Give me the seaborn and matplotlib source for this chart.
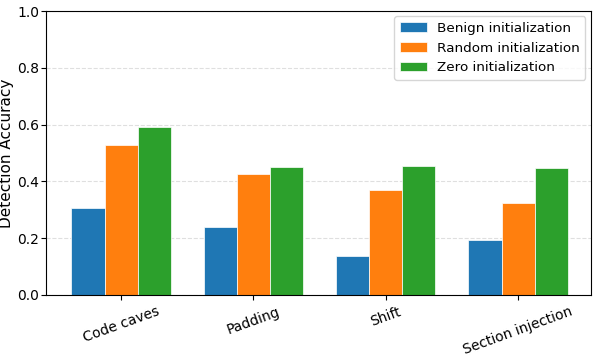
import pandas as pd
import matplotlib
matplotlib.use("Agg")
import matplotlib.pyplot as plt
import seaborn as sns

# Datos
tecnicas = ["Code caves", "Padding", "Shift", "Section injection"]
benign = [0.307, 0.239, 0.136, 0.193]
random_init = [0.529, 0.426, 0.370, 0.323]
zero_init = [0.592, 0.452, 0.455, 0.448]
series = ["Benign initialization", "Random initialization", "Zero initialization"]

data = pd.DataFrame({
    "tecnica": tecnicas * 3,
    "serie": [s for s in series for _ in tecnicas],
    "valor": benign + random_init + zero_init,
})

fig, ax = plt.subplots(figsize=(5.98, 3.57), dpi=100)
sns.barplot(data=data, x="tecnica", y="valor", hue="serie", hue_order=series,
            order=tecnicas, palette=["#1f77b4", "#ff7f0e", "#2ca02c"],
            width=0.75, edgecolor="white", linewidth=0.5, saturation=1, ax=ax)

ax.set_ylim(0, 1.0)
ax.set_xlim(-0.567, 3.55)
ax.set_xlabel("")
ax.set_ylabel("Detection Accuracy", fontsize=11, labelpad=2)
ax.tick_params(axis="y", labelsize=10, pad=1.5)
ax.tick_params(axis="x", labelsize=10)
plt.setp(ax.get_xticklabels(), rotation=20)
ax.yaxis.grid(True, linestyle="--", alpha=0.4)
ax.set_axisbelow(True)
ax.legend(title=None, fontsize=9.7, loc="upper right", borderaxespad=0.4)

fig.subplots_adjust(left=0.077, right=0.988, top=0.969, bottom=0.174)
plt.savefig("out.png", dpi=100)
